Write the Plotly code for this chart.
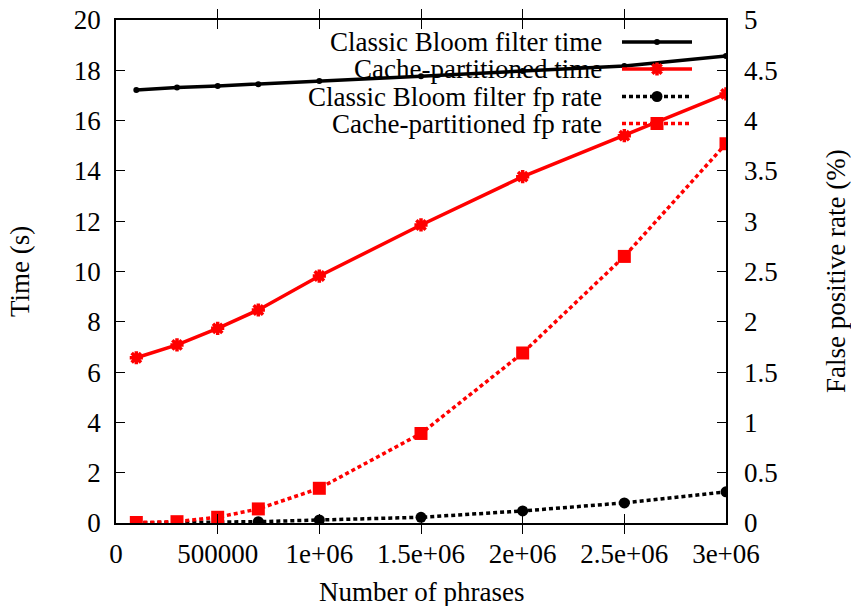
import plotly.graph_objects as go

phrases = [100000, 300000, 500000, 700000, 1000000, 1500000, 2000000, 2500000, 3000000]
classic_time = [17.22, 17.32, 17.38, 17.45, 17.57, 17.76, 17.97, 18.17, 18.57]
cache_time = [6.57, 7.08, 7.74, 8.47, 9.82, 11.85, 13.77, 15.40, 17.06]
classic_fp = [0.002, 0.005, 0.008, 0.013, 0.03, 0.057, 0.12, 0.20, 0.31]
cache_fp = [0.005, 0.013, 0.057, 0.14, 0.345, 0.89, 1.69, 2.65, 3.77]

x_tickvals = [0, 500000, 1000000, 1500000, 2000000, 2500000, 3000000]
x_ticktext = ["0", "500000", "1e+06", "1.5e+06", "2e+06", "2.5e+06", "3e+06"]

series_names = ["Classic Bloom filter time", "Cache-partitioned time",
                "Classic Bloom filter fp rate", "Cache-partitioned fp rate"]

FONT = "Liberation Serif"
FS = 27
W, H = 851, 606
L, R, T, B = 116, 125, 20, 83

styles = [
    dict(color="black", dash="solid", symbol="circle", size=6, lw=0),
    dict(color="#ff0000", dash="solid", symbol="asterisk-open", size=11, lw=3.5),
    dict(color="black", dash="4px,3px", symbol="circle", size=11, lw=0),
    dict(color="#ff0000", dash="4px,3px", symbol="square", size=13, lw=0),
]
ys = [classic_time, cache_time, classic_fp, cache_fp]
yax = ["y", "y", "y2", "y2"]

fig = go.Figure()
for name, yv, st, ya in zip(series_names, ys, styles, yax):
    fig.add_trace(go.Scatter(
        x=phrases, y=yv, name=name, yaxis=ya, mode="lines+markers",
        line=dict(color=st["color"], width=3.5, dash=st["dash"]),
        marker=dict(symbol=st["symbol"], size=st["size"], color=st["color"],
                    line=dict(color=st["color"], width=st["lw"])),
        showlegend=False,
    ))

# custom gnuplot-style key (text left, sample right), positioned in paper coords
pw, ph = W - L - R, H - T - B
def px2x(px):
    return (px - L) / pw
def py2y(py):
    return (H - B - py) / ph

key_rows = [42, 69, 96.5, 123.5]
text_right = 604
samp_l, samp_r, samp_m = 622, 692, 657
for name, st, ry in zip(series_names, styles, key_rows):
    fig.add_annotation(x=px2x(text_right), y=py2y(ry), xref="paper", yref="paper",
                       text=name, showarrow=False, xanchor="right", yanchor="middle",
                       font=dict(family=FONT, size=FS, color="black"))
    fig.add_shape(type="line", xref="paper", yref="paper",
                  x0=px2x(samp_l), x1=px2x(samp_r), y0=py2y(ry), y1=py2y(ry),
                  line=dict(color=st["color"], width=3.5, dash=st["dash"]))
    fig.add_trace(go.Scatter(
        x=[px2x(samp_m)], y=[py2y(ry)], xaxis="x2", yaxis="y3", mode="markers",
        marker=dict(symbol=st["symbol"], size=st["size"], color=st["color"],
                    line=dict(color=st["color"], width=st["lw"])),
        showlegend=False, hoverinfo="skip",
    ))

# axis titles as annotations for exact placement
fig.add_annotation(x=px2x(421), y=py2y(592), xref="paper", yref="paper",
                   text="Number of phrases", showarrow=False,
                   xanchor="center", yanchor="middle",
                   font=dict(family=FONT, size=FS, color="black"))
fig.add_annotation(x=px2x(20), y=py2y(271), xref="paper", yref="paper",
                   text="Time (s)", showarrow=False, textangle=-90,
                   xanchor="center", yanchor="middle",
                   font=dict(family=FONT, size=FS, color="black"))
fig.add_annotation(x=px2x(836), y=py2y(271), xref="paper", yref="paper",
                   text="False positive rate (%)", showarrow=False, textangle=-90,
                   xanchor="center", yanchor="middle",
                   font=dict(family=FONT, size=FS, color="black"))

tickfont = dict(family=FONT, size=FS, color="black")
fig.update_layout(
    width=W, height=H, autosize=False,
    margin=dict(l=L, r=R, t=T, b=B, autoexpand=False),
    paper_bgcolor="white", plot_bgcolor="white",
    font=dict(family=FONT, size=FS, color="black"),
    xaxis=dict(range=[0, 3000000], tickvals=x_tickvals, ticktext=x_ticktext,
               ticks="inside", ticklen=9, tickwidth=1.2, tickcolor="black",
               showline=True, linecolor="black", linewidth=1.5, mirror="allticks",
               showgrid=False, zeroline=False, tickfont=tickfont,
               ticklabelstandoff=6, automargin=False),
    yaxis=dict(range=[0, 20], dtick=2, ticks="inside", ticklen=9, tickwidth=1.2,
               tickcolor="black", showline=True, linecolor="black", linewidth=1.5,
               showgrid=False, zeroline=False, tickfont=tickfont,
               ticklabelstandoff=8, automargin=False),
    yaxis2=dict(range=[0, 5], dtick=0.5, overlaying="y", side="right",
                ticks="inside", ticklen=9, tickwidth=1.2, tickcolor="black",
                showline=True, linecolor="black", linewidth=1.5,
                showgrid=False, zeroline=False, tickfont=tickfont,
                tickprefix="\u00a0", ticklabelstandoff=4, automargin=False),
    xaxis2=dict(range=[0, 1], overlaying="x", visible=False, fixedrange=True),
    yaxis3=dict(range=[0, 1], overlaying="y", visible=False, fixedrange=True),
    showlegend=False,
)

fig.write_html("out.html")
